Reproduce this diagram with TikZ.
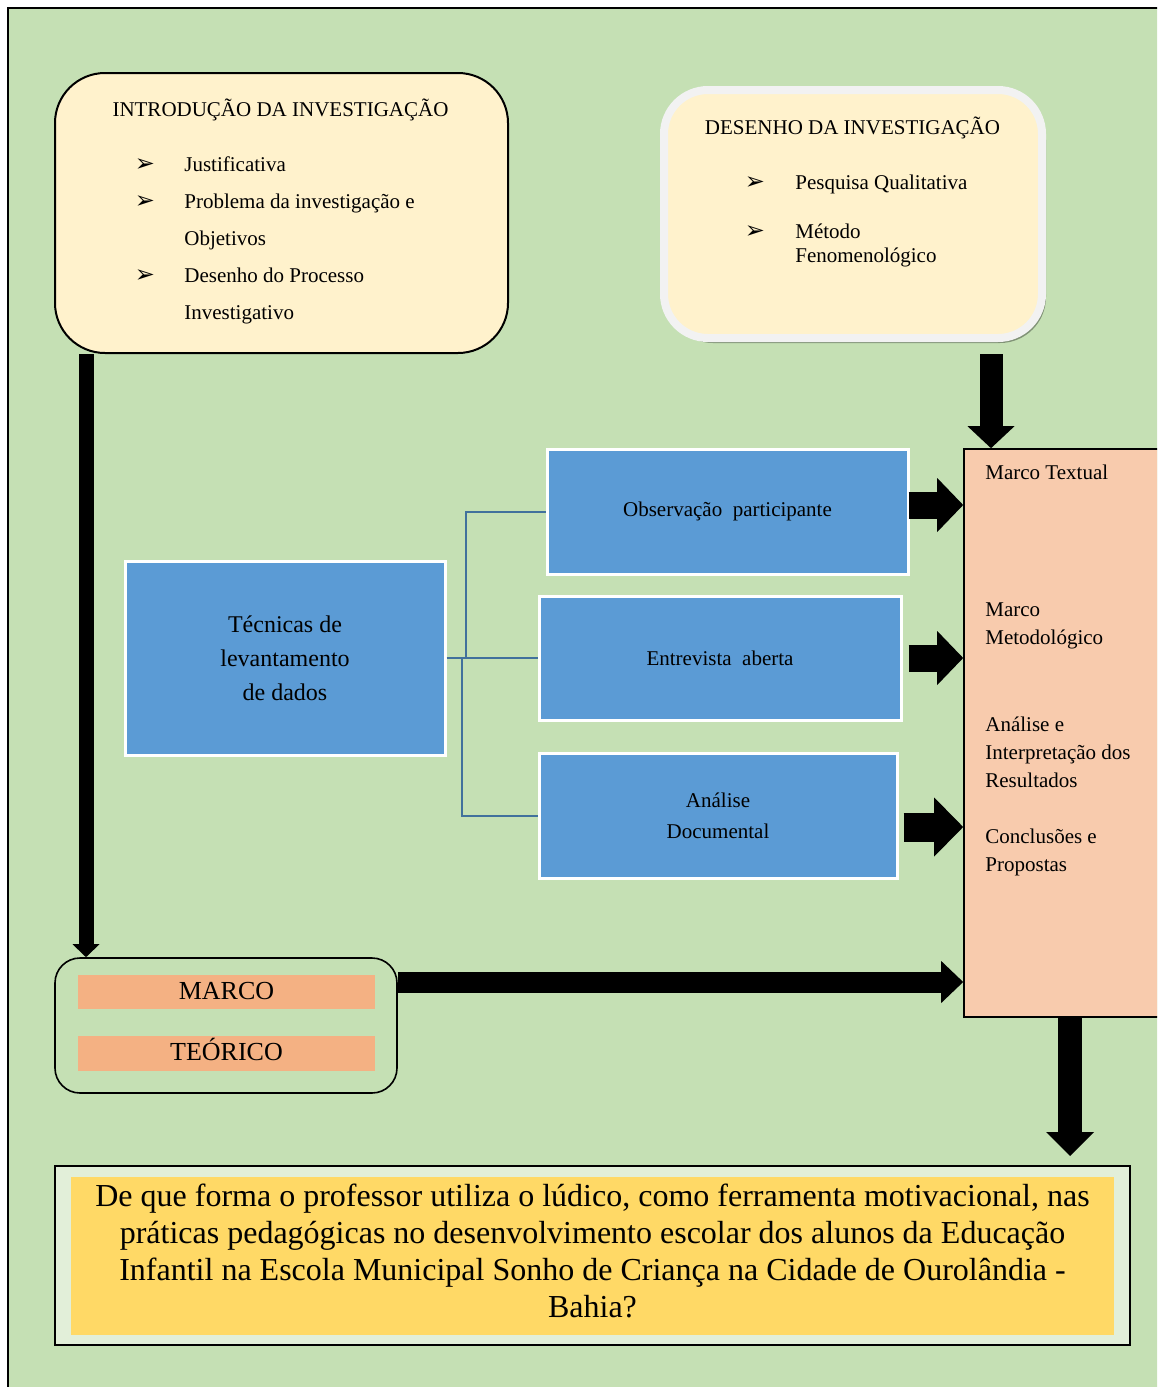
\documentclass[tikz,border=0pt]{standalone}
\usepackage{fontspec}
\setmainfont{Liberation Serif}
\newfontfamily\symbolfont{DejaVu Sans}
\usetikzlibrary{arrows.meta,calc}
\definecolor{pagegreen}{RGB}{197,224,180}
\definecolor{creamfill}{RGB}{255,242,204}
\definecolor{bluefill}{RGB}{91,155,213}
\definecolor{linkblue}{RGB}{65,113,156}
\definecolor{peachfill}{RGB}{248,203,173}
\definecolor{orangebar}{RGB}{244,177,131}
\definecolor{palegreen}{RGB}{226,239,217}
\definecolor{goldfill}{RGB}{255,217,102}
\definecolor{framegray}{RGB}{242,242,242}
\definecolor{shadowgray}{RGB}{128,146,118}
\newcommand{\pointer}{{\symbolfont\fontsize{12}{14}\selectfont ➢}}
\tikzset{
  txt/.style={inner sep=0pt, font=\fontsize{10.5}{14}\selectfont, text height=1.9ex, text depth=.25ex},
  txtblock/.style={inner sep=0pt, align=left, font=\fontsize{10.5}{14}\selectfont},
  bluebox/.style={fill=bluefill, draw=white, line width=1.5pt, inner sep=0pt, align=center, font=\fontsize{10.5}{15.5}\selectfont},
  orangebox/.style={fill=orangebar, inner sep=0pt, minimum width=148.5pt, font=\fontsize{13}{15}\selectfont, text height=9pt, text depth=2pt},
  link/.style={draw=linkblue, line width=1pt},
  fat/.style args={#1/#2/#3}{line width=#1, -{Triangle[length=#3, width=#2, line width=0pt]}}
}

\begin{document}
\begin{tikzpicture}[x = .5pt, y = -.5pt]
    \useasboundingbox (0,0) rectangle (1157,1387);
    \clip (0,0) rectangle (1157,1387);
    % page
    \draw[fill = pagegreen, line width = 1pt] (8,8) rectangle (1175,1400);

    % introducao
    \node[fill = creamfill, draw, line width = 1pt, rounded corners = 25pt, minimum width = 226.5pt, minimum height = 140pt] (intro) at (281.5,213) {};
    \node[txt] (introtitle) at (280.5,109) {INTRODUÇÃO DA INVESTIGAÇÃO};
    \node[txt] (ib1) at (145,164) {\pointer};
    \node[txt] (ib2) at (145,201) {\pointer};
    \node[txt] (ib3) at (145,275) {\pointer};
    \node[txt, anchor = west] (i1) at (184,164) {Justificativa};
    \node[txt, anchor = west] (i2) at (184,201) {Problema da investigação e};
    \node[txt, anchor = west] (i3) at (184,238) {Objetivos};
    \node[txt, anchor = west] (i4) at (184,275) {Desenho do Processo};
    \node[txt, anchor = west] (i5) at (184,312) {Investigativo};

    % desenho
    \fill[shadowgray, rounded corners = 23pt] (667,94) rectangle (1046,343);
    \node[fill = creamfill, draw = framegray, line width = 4pt, rounded corners = 22pt, minimum width = 189pt, minimum height = 124pt] (desenho) at (853,214) {};
    \node[txt] (destitle) at (852.5,127) {DESENHO DA INVESTIGAÇÃO};
    \node[txt] (db1) at (755,182) {\pointer};
    \node[txt] (db2) at (755,231) {\pointer};
    \node[txt, anchor = west] (d1) at (795,182) {Pesquisa Qualitativa};
    \node[txtblock, anchor = west, font = \fontsize{10.5}{12}\selectfont] (d2) at (795,245) {Método\\Fenomenológico};

    % marco (direita)
    \node[fill = peachfill, draw, line width = .8pt, minimum width = 98pt, minimum height = 284pt] (marco) at (1062,733) {};
    \node[txt, anchor = west] (m1) at (985,472) {Marco Textual};
    \node[txtblock, anchor = west] (m2) at (985,626) {Marco\\Metodológico};
    \node[txtblock, anchor = west] (m3) at (985,752) {Análise e\\Interpretação dos\\Resultados};
    \node[txtblock, anchor = west] (m4) at (985,852) {Conclusões e\\Propostas};

    % tecnicas
    \node[bluebox, font = \fontsize{12}{17}\selectfont, minimum width = 160pt, minimum height = 97pt] (tec) at (285,658) {Técnicas de\\levantamento\\de dados};
    \node[bluebox, minimum width = 180.5pt, minimum height = 62.5pt] (obs) at (727.5,511.5) {Observação\ \ participante};
    \node[bluebox, minimum width = 181pt, minimum height = 62pt] (ent) at (720,658) {Entrevista\ \ aberta};
    \node[bluebox, minimum width = 179pt, minimum height = 62.5pt] (ana) at (718,815.5) {Análise\\Documental};
    \draw[link] (tec.east) -- (ent.west);
    \coordinate (j1) at ($(tec.east)+(19,0)$);
    \coordinate (j2) at ($(tec.east)+(15,0)$);
    \draw[link] (j1) |- (obs.west);
    \draw[link] (j2) |- (ana.west);

    % marco teorico
    \node[fill = pagegreen, draw, line width = .8pt, rounded corners = 12.5pt, minimum width = 171pt, minimum height = 67.5pt] (teorico) at (226,1025.5) {};
    \node[orangebox, minimum height = 17pt] (bar1) at (226.5,992) {MARCO};
    \node[orangebox, minimum height = 17.5pt] (bar2) at (226.5,1053.5) {TEÓRICO};

    % pergunta
    \node[fill = palegreen, draw, line width = 1pt, minimum width = 537.5pt, minimum height = 89.5pt] (qbox) at (592.5,1255.5) {};
    \node[fill = goldfill, inner sep = 0pt, minimum width = 521.5pt, minimum height = 79pt] (qfill) at (592.5,1256) {};
    \node[align = center, inner sep = 0pt, font = \fontsize{16}{18.5}\selectfont] (question) at (592.5,1251) {De que forma o professor utiliza o lúdico, como ferramenta motivacional, nas\\práticas pedagógicas no desenvolvimento escolar dos alunos da Educação\\Infantil na Escola Municipal Sonho de Criança na Cidade de Ourolândia -\\Bahia?};

    % setas
    \coordinate (s1) at ($(intro.south west)+(32,0)$);
    \draw[fat = 7.5pt/13.5pt/6.5pt] (s1) -- (s1 |- teorico.north);
    \coordinate (s2) at ($(desenho.south)+(138,12)$);
    \draw[fat = 11.5pt/23.5pt/11pt] (s2) -- (s2 |- marco.north);
    \coordinate (s3) at ($(marco.south west)+(107,0)$);
    \draw[fat = 12pt/24pt/12pt] (s3) -- ($(s3 |- qbox.north)+(0,-9)$);
    \coordinate (s4) at ($(teorico.east)+(0,-43.5)$);
    \draw[fat = 10.5pt/21pt/11pt] (s4) -- (s4 -| marco.west);
    \coordinate (s5) at ($(obs.east)+(-1,-6.5)$);
    \draw[fat = 13.5pt/27pt/13pt] (s5) -- (s5 -| marco.west);
    \coordinate (s6) at ($(ent.east)+(6,0)$);
    \draw[fat = 13.5pt/27pt/13pt] (s6) -- (s6 -| marco.west);
    \coordinate (s7) at ($(ana.east)+(5,11.5)$);
    \draw[fat = 14.5pt/29.5pt/14.5pt] (s7) -- (s7 -| marco.west);
\end{tikzpicture}
\end{document}
